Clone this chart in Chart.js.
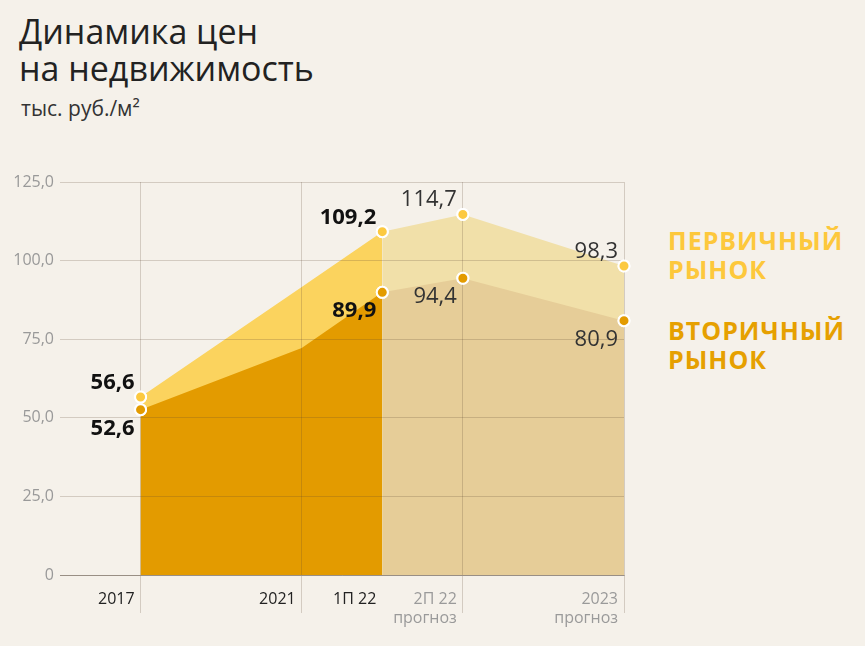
<!DOCTYPE html>
<html lang="ru">
<head>
<meta charset="utf-8">
<script src="https://cdn.jsdelivr.net/npm/chart.js@4/dist/chart.umd.min.js"></script>
<style>
  html, body { margin: 0; padding: 0; }
  body {
    width: 865px; height: 646px; position: relative; overflow: hidden;
    background: #f5f1ea; font-family: "Open Sans", sans-serif;
  }
  #wrap { position: absolute; left: 0; top: 0; width: 865px; height: 646px; }
  .title { position: absolute; left: 19px; top: 13px; font-size: 34px; line-height: 37px; color: #222; }
  .unit { position: absolute; left: 21px; top: 98px; font-size: 21px; line-height: 21px; color: #333; }
  .legend { position: absolute; left: 668px; font-weight: bold; font-size: 25px; line-height: 29px; letter-spacing: 1px; }
</style>
</head>
<body>
<div class="title">Динамика цен<br>на недвижимость</div>
<div class="unit">тыс. руб./м²</div>
<div class="legend" style="top:226px;color:#fdc83c">ПЕРВИЧНЫЙ<br>РЫНОК</div>
<div class="legend" style="top:316px;color:#e6a000">ВТОРИЧНЫЙ<br>РЫНОК</div>
<div id="wrap"><canvas id="myChart" width="865" height="646"></canvas></div>

<script>
// categories on the x axis (empty ones are spacer steps)
const categories = ['', '2017', '', '2021', '1П 22', '2П 22', '', '2023']
const labelled = ['2017', '1П 22', '2П 22', '2023']
const forecastFrom = 4   // after "1П 22" the values are a forecast

const primaryMarket = [null, 56.6, null, 91.6, 109.2, 114.7, null, 98.3]
const secondaryMarket = [null, 52.6, null, 72.2, 89.9, 94.4, null, 80.9]

const yTicks = [0, 25, 50, 75, 100, 125]

const fmt = v => v === 0 ? '0' : v.toFixed(1).replace('.', ',')

// split a series in the actual part and the forecast part
const actualPart = arr => arr.map((v, i) => i <= forecastFrom ? v : null)
const forecastPart = arr => arr.map((v, i) => i >= forecastFrom ? v : null)

// points on top of the grid + value labels next to them
const valueLabels = {
    id: 'valueLabels',
    afterDraw(chart) {
        const ctx = chart.ctx
        ctx.save()
        // grid is drawn over the fills, so put the points back on top
        for (let di = chart.data.datasets.length - 1; di >= 0; di--) {
            chart.getDatasetMeta(di).data.forEach(pt => {
                if (pt.options && pt.options.radius > 0) pt.draw(ctx, chart.chartArea)
            })
        }
        chart.data.datasets.forEach((ds, di) => {
            const meta = chart.getDatasetMeta(di)
            ds.data.forEach((v, i) => {
                if (v === null || !labelled.includes(categories[i])) return
                if (ds.forecast && i === forecastFrom) return
                const pt = meta.data[i]
                const forecast = i > forecastFrom
                ctx.font = (forecast ? '' : 'bold ') + '22px "Open Sans", sans-serif'
                ctx.fillStyle = forecast ? '#333' : '#111'
                ctx.textAlign = 'right'
                ctx.textBaseline = 'alphabetic'
                if (ds.isPrimary) {
                    ctx.fillText(fmt(v), pt.x - 6, pt.y - 8)
                } else {
                    ctx.fillText(fmt(v), pt.x - 6, pt.y + 25)
                }
            })
        })
        ctx.restore()
    }
}

function series(label, data, fillColor, pointColor, isPrimary, forecast) {
    return {
        label: label,
        data: data,
        isPrimary: isPrimary,
        forecast: forecast,
        fill: 'origin',
        backgroundColor: fillColor,
        borderWidth: 0,
        borderColor: 'rgba(0,0,0,0)',
        pointBackgroundColor: pointColor,
        pointBorderColor: '#fff',
        pointBorderWidth: 2,
        pointRadius: c => {
            if (forecast && c.dataIndex === forecastFrom) return 0
            return labelled.includes(categories[c.dataIndex]) ? 5.5 : 0
        },
        spanGaps: true
    }
}

function buildChart() {
    const ctx = document.getElementById('myChart')
    const gridCol = 'rgba(90,70,50,0.22)'
    const mainLines = [1, 3, 5, 7]
    new Chart(ctx, {
        type: 'line',
        data: {
            labels: categories,
            datasets: [
                series('Вторичный рынок', actualPart(secondaryMarket), '#e39b00', '#e39b00', false, false),
                series('Вторичный рынок, прогноз', forecastPart(secondaryMarket), '#e6cd98', '#e39b00', false, true),
                series('Первичный рынок', actualPart(primaryMarket), '#fbd35e', '#fcc940', true, false),
                series('Первичный рынок, прогноз', forecastPart(primaryMarket), '#f1e0a9', '#fcc940', true, true)
            ]
        },
        options: {
            responsive: false,
            animation: false,
            layout: { padding: { left: 0, top: 182, right: 241, bottom: 0 } },
            plugins: {
                legend: { display: false },
                tooltip: { enabled: false }
            },
            scales: {
                x: {
                    offset: false,
                    afterFit: s => { s.height = 71 },
                    grid: {
                        z: 1,
                        color: c => mainLines.includes(c.index) ? gridCol : 'rgba(0,0,0,0)',
                        tickColor: c => mainLines.includes(c.index) ? gridCol : 'rgba(0,0,0,0)',
                        tickLength: 38
                    },
                    border: { z: 1, color: 'rgba(60,50,40,0.4)' },
                    ticks: {
                        autoSkip: false,
                        maxRotation: 0,
                        align: 'end',
                        labelOffset: -6,
                        padding: -23,
                        font: { family: '"Open Sans", sans-serif', size: 16 },
                        color: c => c.index > forecastFrom ? '#9a9a9a' : '#222',
                        callback: (v, i) => {
                            const c = categories[i]
                            if (!c) return ''
                            return i > forecastFrom ? [c, 'прогноз'] : c
                        }
                    }
                },
                y: {
                    min: 0,
                    max: 125,
                    afterFit: s => { s.width = 60 },
                    afterBuildTicks: s => { s.ticks = yTicks.map(v => ({ value: v })) },
                    grid: { z: 1, color: gridCol, drawTicks: false },
                    border: { display: false },
                    ticks: {
                        padding: 6,
                        font: { family: '"Open Sans", sans-serif', size: 16 },
                        color: '#999',
                        callback: v => fmt(v)
                    }
                }
            }
        },
        plugins: [valueLabels]
    })
}

buildChart()
</script>
</body>
</html>
